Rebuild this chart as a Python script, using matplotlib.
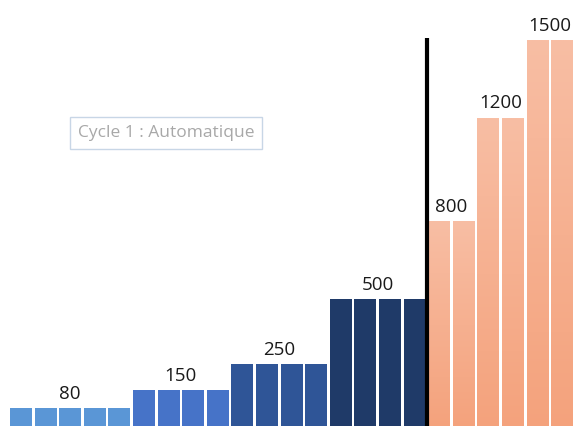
import matplotlib
matplotlib.use("Agg")
import matplotlib.pyplot as plt
import numpy as np
from matplotlib.colors import LinearSegmentedColormap

# Data
group_values = [80, 150, 250, 500, 800, 1200, 1500]
group_counts = [5, 4, 4, 4, 2, 2, 2]
group_labels = ["80", "150", "250", "500", "800", "1200", "1500"]
group_colors = ["#5A96D6", "#4673C8", "#2F5597", "#1F3A68",
                "#F5AA88", "#F5AA88", "#F5AA88"]
title_text = "Cycle 1 : Automatique"

fig = plt.figure(figsize=(5.73, 4.26), dpi=100)
ax = fig.add_axes([0, 0, 1, 1])

values = []
colors = []
for v, n, c in zip(group_values, group_counts, group_colors):
    values += [v] * n
    colors += [c] * n
x = np.arange(len(values))
bars = ax.bar(x, values, width=0.89, color=colors, edgecolor="none", zorder=2)

# gradient on salmon bars
grad = np.linspace(0, 1, 256).reshape(-1, 1)
cmap = LinearSegmentedColormap.from_list("sal", ["#F4A27C", "#F8BEA4"])
for b, c in zip(bars, colors):
    if c.startswith("#F5"):
        x0 = b.get_x(); w = b.get_width(); h = b.get_height()
        im = ax.imshow(grad, cmap=cmap, aspect="auto", origin="lower",
                       extent=[x0, x0 + w, 0, h], zorder=3)
        im.set_clip_path(b)

# labels
start = 0
for v, n, lab in zip(group_values, group_counts, group_labels):
    cx = start + (n - 1) / 2
    ax.text(cx, v + 20, lab, ha="center", va="bottom", fontsize=13.5,
            family="Open Sans", color="#1a1a1a", zorder=4)
    start += n

# separator line
sep = sum(group_counts[:4]) - 0.5
ax.vlines(sep, 0, 1500 + 8, color="black", linewidth=3, zorder=5)

# title box
ax.text(0.29, 0.688, title_text, transform=ax.transAxes, ha="center", va="center",
        fontsize=12.5, family="Open Sans", color="#A8A8A8",
        bbox=dict(boxstyle="square,pad=0.45", facecolor="white",
                  edgecolor="#C8D6E6", linewidth=1.0))

ax.set_xlim(-0.854, 22.44)
ax.set_ylim(10, 1654)
ax.axis("off")
fig.savefig("out.png", dpi=100)
